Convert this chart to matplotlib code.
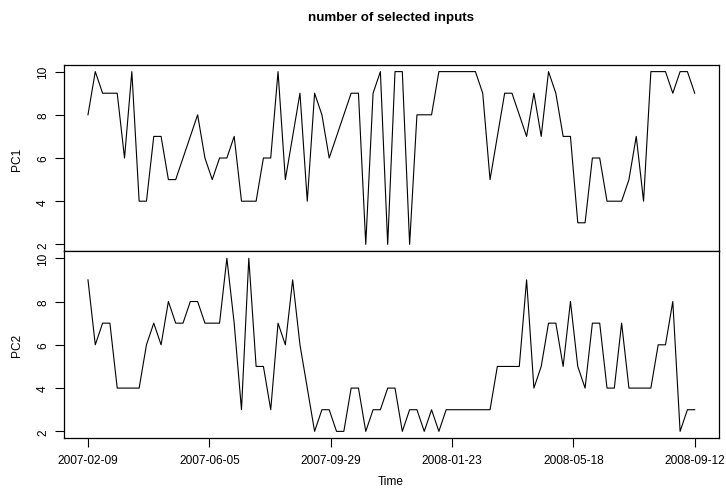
import matplotlib
matplotlib.use("Agg")
from matplotlib import pyplot as plt
import numpy as np

plt.rcParams['font.family'] = ['Liberation Sans', 'DejaVu Sans']

# weekly counts of selected inputs for the two principal components
pc1 = [8, 10, 9, 9, 9, 6, 10, 4, 4, 7, 7, 5, 5, 6, 7, 8, 6, 5, 6, 6,
       7, 4, 4, 4, 6, 6, 10, 5, 7, 9, 4, 9, 8, 6, 7, 8, 9, 9, 2, 9,
       10, 2, 10, 10, 2, 8, 8, 8, 10, 10, 10, 10, 10, 10, 9, 5, 7, 9, 9, 8,
       7, 9, 7, 10, 9, 7, 7, 3, 3, 6, 6, 4, 4, 4, 5, 7, 4, 10, 10, 10,
       9, 10, 10, 9]
pc2 = [9, 6, 7, 7, 4, 4, 4, 4, 6, 7, 6, 8, 7, 7, 8, 8, 7, 7, 7, 10,
       7, 3, 10, 5, 5, 3, 7, 6, 9, 6, 4, 2, 3, 3, 2, 2, 4, 4, 2, 3,
       3, 4, 4, 2, 3, 3, 2, 3, 2, 3, 3, 3, 3, 3, 3, 3, 5, 5, 5, 5,
       9, 4, 5, 7, 7, 5, 8, 5, 4, 7, 7, 4, 4, 7, 4, 4, 4, 4, 6, 6,
       8, 2, 3, 3]
date_labels = ['2007-02-09', '2007-06-05', '2007-09-29',
               '2008-01-23', '2008-05-18', '2008-09-12']
series = {'PC1': pc1, 'PC2': pc2}

W, H = 726, 489
fig = plt.figure(figsize=(W / 100, H / 100), dpi=100)

left = 63.7 / W
width = (719.0 - 63.7) / W
panels = [(65.7, 252.3), (252.3, 439.3)]

n = len(pc1)
t = np.arange(n)
pad_x = 0.04 * (n - 1)
axes = []
for k, (name, vals) in enumerate(series.items()):
    top, bot = panels[k]
    ax = fig.add_axes([left, 1 - bot / H, width, (bot - top) / H])
    ax.plot(t, vals, color='black', linewidth=0.8)
    ax.set_xlim(-pad_x, n - 1 + pad_x)
    lo, hi = min(vals), max(vals)
    r = hi - lo
    ax.set_ylim(lo - 0.04 * r, hi + 0.04 * r)
    ax.set_yticks([2, 4, 6, 8, 10])
    ax.set_yticklabels(['2', '4', '6', '8', '10'], rotation=90, va='center')
    ax.tick_params(axis='y', length=6.5, width=0.8, labelsize=8.6, pad=4)
    for s in ax.spines.values():
        s.set_linewidth(0.9)
    fig.text(16.7 / W, 1 - (top + bot) / 2 / H, name, rotation=90,
             ha='center', va='center', fontsize=8.6)
    axes.append(ax)

axes[0].tick_params(axis='x', bottom=False, labelbottom=False)
ticks = np.linspace(0, n - 1, len(date_labels))
axes[1].set_xticks(ticks)
axes[1].set_xticklabels(date_labels)
axes[1].tick_params(axis='x', length=6.5, width=0.8, labelsize=8.6, pad=5)

fig.text(391 / W, 1 - 482 / H, 'Time', ha='center', va='center', fontsize=8.6)
fig.text(391 / W, 1 - 18.3 / H, 'number of selected inputs', ha='center',
         va='center', fontsize=9.6, fontweight='bold')

fig.savefig('out.png', dpi=100)
